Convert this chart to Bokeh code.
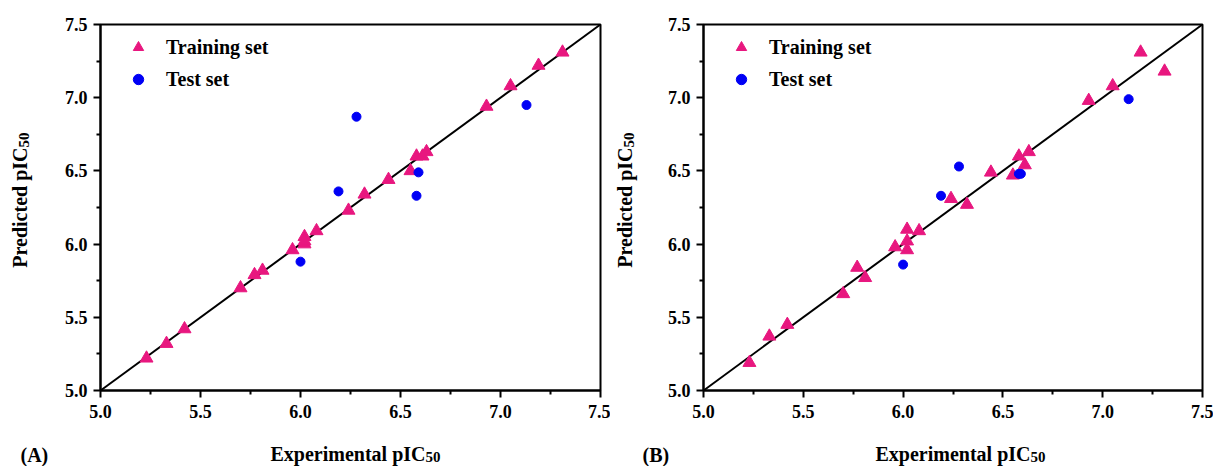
import math
from bokeh.plotting import figure
from bokeh.models import Range1d, FixedTicker, PrintfTickFormatter, Label, Legend, LegendItem
from bokeh.layouts import row, column
from bokeh.embed import file_html
from bokeh.resources import INLINE

# ---------------- data ----------------
AXIS_MIN = 5.0
AXIS_MAX = 7.5
MAJOR_TICKS = [5.0, 5.5, 6.0, 6.5, 7.0, 7.5]
MINOR_TICKS = [5.25, 5.75, 6.25, 6.75, 7.25]

train_exp = [5.23, 5.33, 5.42, 5.70, 5.77, 5.81, 5.96, 6.02, 6.02, 6.02, 6.08,
             6.24, 6.32, 6.44, 6.55, 6.58, 6.61, 6.63, 6.93, 7.05, 7.19, 7.31]
train_pred_A = [5.22, 5.32, 5.42, 5.70, 5.79, 5.82, 5.96, 6.00, 6.05, 6.02, 6.09,
                6.23, 6.34, 6.44, 6.50, 6.60, 6.60, 6.63, 6.94, 7.08, 7.22, 7.31]
train_pred_B = [5.19, 5.37, 5.45, 5.66, 5.84, 5.77, 5.98, 6.10, 6.02, 5.96, 6.09,
                6.31, 6.27, 6.49, 6.47, 6.60, 6.54, 6.63, 6.98, 7.08, 7.31, 7.18]

test_exp = [6.00, 6.19, 6.28, 6.58, 6.59, 7.13]
test_pred_A = [5.88, 6.36, 6.87, 6.33, 6.49, 6.95]
test_pred_B = [5.86, 6.33, 6.53, 6.48, 6.48, 6.99]

PANEL_LABELS = ["(A)", "(B)"]
X_TITLE = "Experimental pIC"
Y_TITLE = "Predicted pIC"
SUBSCRIPT = "50"
LEGEND_LABELS = ["Training set", "Test set"]

# ---------------- style ----------------
FONT = "Liberation Serif"
PINK = "#E8177F"
BLUE = "#0000F5"
TOP_H = 430
BOTTOM_H = 36


def blank(width, height):
    f = figure(width=width, height=height, output_backend="svg", toolbar_location=None,
               x_range=Range1d(0, 1), y_range=Range1d(0, 1),
               x_axis_type=None, y_axis_type=None,
               min_border=0, min_border_left=0, min_border_right=0,
               min_border_top=0, min_border_bottom=0)
    f.outline_line_color = None
    f.background_fill_color = "white"
    f.border_fill_color = "white"
    f.xgrid.visible = False
    f.ygrid.visible = False
    return f


TXT = dict(x_units="screen", y_units="screen", text_font=FONT,
           text_font_style="bold", text_color="black", text_baseline="alphabetic")


def ytitle_fig(width, base_x, junction_y):
    f = blank(width, TOP_H)
    f.add_layout(Label(x=base_x, y=junction_y, text=Y_TITLE, text_align="right",
                       angle=math.pi / 2, text_font_size="20px", **TXT))
    f.add_layout(Label(x=base_x + 4, y=junction_y, text=SUBSCRIPT, text_align="left",
                       angle=math.pi / 2, text_font_size="15px", **TXT))
    return f


def make_panel(train_pred, test_pred, width, b_left, b_right):
    p = figure(width=width, height=TOP_H, output_backend="svg", toolbar_location=None,
               x_range=Range1d(AXIS_MIN, AXIS_MAX), y_range=Range1d(AXIS_MIN, AXIS_MAX),
               min_border_left=b_left, min_border_right=b_right,
               min_border_top=24, min_border_bottom=40)
    p.background_fill_color = "white"
    p.border_fill_color = "white"
    p.outline_line_color = "black"
    p.outline_line_width = 2
    p.xgrid.visible = False
    p.ygrid.visible = False

    for ax in (p.xaxis[0], p.yaxis[0]):
        ax.ticker = FixedTicker(ticks=MAJOR_TICKS, minor_ticks=MINOR_TICKS)
        ax.formatter = PrintfTickFormatter(format="%.1f")
        ax.axis_line_width = 2
        ax.axis_line_color = "black"
        ax.major_tick_line_width = 2
        ax.minor_tick_line_width = 2
        ax.major_tick_out = 7
        ax.major_tick_in = 0
        ax.minor_tick_out = 4
        ax.minor_tick_in = 0
        ax.major_label_text_font = FONT
        ax.major_label_text_font_style = "bold"
        ax.major_label_text_font_size = "18px"
        ax.major_label_text_color = "black"
    p.xaxis[0].major_label_standoff = 7
    p.yaxis[0].major_label_standoff = 6

    p.line(x=[AXIS_MIN, AXIS_MAX], y=[AXIS_MIN, AXIS_MAX], line_color="black", line_width=2)
    r_train = p.scatter(x=train_exp, y=train_pred, marker="triangle", size=13,
                        fill_color=PINK, line_color=PINK)
    r_test = p.scatter(x=test_exp, y=test_pred, marker="circle", size=9,
                       fill_color=BLUE, line_color=BLUE)

    legend = Legend(items=[LegendItem(label=LEGEND_LABELS[0], renderers=[r_train]),
                           LegendItem(label=LEGEND_LABELS[1], renderers=[r_test])],
                    location="top_left", margin=5, padding=5,
                    glyph_width=56, glyph_height=26, label_height=26,
                    label_standoff=0, spacing=6,
                    background_fill_alpha=0, border_line_alpha=0,
                    label_text_font=FONT, label_text_font_style="bold",
                    label_text_font_size="20px", label_text_color="black")
    p.add_layout(legend)
    return p


# left title A (x 0..40), panel A (40..610), left title B (610..650), panel B (650..1213)
yt1 = ytitle_fig(40, 19, 243)
p1 = make_panel(train_pred_A, test_pred_A, 570, 60, 10)
yt2 = ytitle_fig(40, 14, 243)
p2 = make_panel(train_pred_B, test_pred_B, 563, 53, 11)

# bottom strip with panel letters and x titles
bottom = blank(1213, BOTTOM_H)
for lab, lx, jx in ((PANEL_LABELS[0], 20, 425), (PANEL_LABELS[1], 642, 1030)):
    bottom.add_layout(Label(x=lx, y=12, text=lab, text_align="left",
                            text_font_size="20px", **TXT))
    bottom.add_layout(Label(x=jx, y=13, text=X_TITLE, text_align="right",
                            text_font_size="20px", **TXT))
    bottom.add_layout(Label(x=jx, y=10, text=SUBSCRIPT, text_align="left",
                            text_font_size="15px", **TXT))

layout = column(row(yt1, p1, yt2, p2), bottom)
open("out.html", "w").write(file_html(layout, INLINE))
